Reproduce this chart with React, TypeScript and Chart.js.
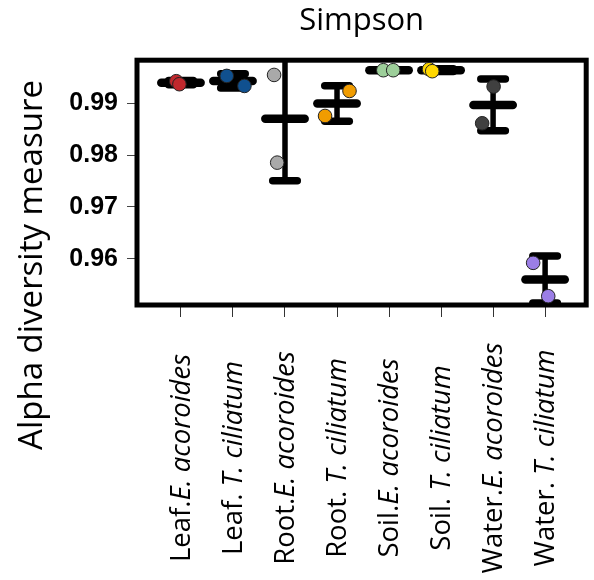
import React, { useEffect, useRef } from 'react';
import { Chart, registerables } from 'chart.js';

Chart.register(...registerables);

// ---- data ----
const groupPrefixes = ['Leaf.', 'Leaf. ', 'Root.', 'Root. ', 'Soil.', 'Soil. ', 'Water.', 'Water. '];
const speciesNames = ['E. acoroides', 'T. ciliatum', 'E. acoroides', 'T. ciliatum', 'E. acoroides', 'T. ciliatum', 'E. acoroides', 'T. ciliatum'];
const replicateA = [0.99425, 0.99527, 0.99546, 0.98755, 0.99637, 0.99656, 0.99322, 0.95923];
const replicateB = [0.99367, 0.99334, 0.97855, 0.99237, 0.99637, 0.99618, 0.98614, 0.9528];
const jitterA = [-0.09, -0.12, -0.21, -0.23, -0.11, -0.23, 0.01, -0.23];
const jitterB = [-0.03, 0.22, -0.15, 0.24, 0.08, -0.17, -0.21, 0.06];
const pointColors = ['#c0282d', '#10508f', '#a9a9a9', '#f09c00', '#9dcf9a', '#ffd700', '#404040', '#9b7ee6'];
const yTickValues = [0.96, 0.97, 0.98, 0.99];
const yMin = 0.9511;
const yMax = 0.9983;
const chartTitle = 'Simpson';
const yAxisTitle = 'Alpha diversity measure';

// ---- style ----
const MEAN_HALF = 0.378;
const CAP_HALF = 0.236;
const LABEL_FONT = 'Open Sans';

function stats(i: number) {
  const vals = [replicateA[i], replicateB[i]];
  const mean = vals.reduce((s, v) => s + v, 0) / vals.length;
  const sd = Math.sqrt(vals.reduce((s, v) => s + (v - mean) * (v - mean), 0) / (vals.length - 1));
  return { mean, sd };
}

const summaryPlugin = {
  id: 'summaryBars',
  beforeDatasetsDraw(chart: any) {
    const { ctx, chartArea: a, scales } = chart;
    const xs = scales.x;
    const ys = scales.y;
    ctx.save();
    ctx.beginPath();
    ctx.rect(a.left, a.top, a.right - a.left, a.bottom - a.top);
    ctx.clip();
    ctx.strokeStyle = '#000';
    groupPrefixes.forEach((_, i) => {
      const { mean, sd } = stats(i);
      const cx = xs.getPixelForValue(i);
      const yTop = ys.getPixelForValue(mean + sd);
      const yBot = ys.getPixelForValue(mean - sd);
      const yMean = ys.getPixelForValue(mean);
      ctx.lineCap = 'butt';
      ctx.lineWidth = 5.5;
      ctx.beginPath();
      ctx.moveTo(cx, yTop);
      ctx.lineTo(cx, yBot);
      ctx.stroke();
      ctx.lineCap = 'round';
      ctx.lineWidth = 7.5;
      [yTop, yBot].forEach((yy) => {
        ctx.beginPath();
        ctx.moveTo(xs.getPixelForValue(i - CAP_HALF), yy);
        ctx.lineTo(xs.getPixelForValue(i + CAP_HALF), yy);
        ctx.stroke();
      });
      ctx.lineWidth = 8.5;
      ctx.beginPath();
      ctx.moveTo(xs.getPixelForValue(i - MEAN_HALF), yMean);
      ctx.lineTo(xs.getPixelForValue(i + MEAN_HALF), yMean);
      ctx.stroke();
    });
    ctx.restore();
    ctx.save();
    ctx.lineWidth = 5;
    ctx.strokeStyle = '#000';
    ctx.strokeRect(a.left, a.top, a.right - a.left, a.bottom - a.top);
    ctx.restore();
  },
  afterDraw(chart: any) {
    const { ctx, scales } = chart;
    const xs = scales.x;
    ctx.save();
    ctx.fillStyle = '#000';
    ctx.textBaseline = 'middle';
    ctx.textAlign = 'left';
    groupPrefixes.forEach((prefix, i) => {
      const cx = xs.getPixelForValue(i);
      const normalFont = `27.5px "${LABEL_FONT}"`;
      const italicFont = `italic 27.5px "${LABEL_FONT}"`;
      ctx.font = normalFont;
      const w1 = ctx.measureText(prefix).width;
      ctx.font = italicFont;
      const w2 = ctx.measureText(speciesNames[i]).width;
      const total = w1 + w2;
      ctx.save();
      ctx.translate(cx + 1, 458);
      ctx.rotate(-Math.PI / 2);
      ctx.font = normalFont;
      ctx.fillText(prefix, -total / 2, 0);
      ctx.font = italicFont;
      ctx.fillText(speciesNames[i], -total / 2 + w1, 0);
      ctx.restore();
    });
    // y axis title
    ctx.save();
    ctx.translate(33, 265);
    ctx.rotate(-Math.PI / 2);
    ctx.textAlign = 'center';
    ctx.font = `33px "${LABEL_FONT}"`;
    ctx.fillText(yAxisTitle, 0, 0);
    ctx.restore();
    ctx.restore();
  },
};

export default function App() {
  const canvasRef = useRef<HTMLCanvasElement | null>(null);

  useEffect(() => {
    document.body.style.margin = '0';
    const canvas = canvasRef.current;
    if (!canvas) return;
    const datasets = groupPrefixes.map((g, i) => ({
      label: g + speciesNames[i],
      data: [
        { x: i + jitterA[i], y: replicateA[i] },
        { x: i + jitterB[i], y: replicateB[i] },
      ],
      backgroundColor: pointColors[i],
      borderColor: '#222',
      borderWidth: 1,
      pointRadius: 6.8,
      clip: false as any,
    }));
    const chart = new Chart(canvas, {
      type: 'scatter',
      data: { datasets },
      plugins: [summaryPlugin],
      options: {
        animation: false,
        responsive: false,
        devicePixelRatio: 1,
        layout: { padding: { left: 0, right: 2, top: 0, bottom: 0 } },
        plugins: {
          legend: { display: false },
          tooltip: { enabled: false },
          title: {
            display: true,
            text: chartTitle,
            fullSize: false,
            color: '#000',
            font: { family: LABEL_FONT, size: 31, weight: 'normal', lineHeight: 1.2 },
            padding: { top: 3, bottom: 20 },
          },
        },
        scales: {
          x: {
            type: 'linear',
            min: -0.845,
            max: 7.79,
            afterBuildTicks: (s: any) => {
              s.ticks = groupPrefixes.map((_, i) => ({ value: i }));
            },
            afterFit: (s: any) => {
              s.height = 275;
            },
            ticks: { callback: () => '', autoSkip: false, maxRotation: 0 },
            grid: { drawOnChartArea: false, drawTicks: true, tickLength: 12, color: '#333', lineWidth: 1 },
            border: { display: false },
          },
          y: {
            type: 'linear',
            min: yMin,
            max: yMax,
            afterBuildTicks: (s: any) => {
              s.ticks = yTickValues.map((v) => ({ value: v }));
            },
            afterFit: (s: any) => {
              s.width = 137;
            },
            ticks: {
              callback: (v: any) => Number(v).toFixed(2),
              color: '#000',
              padding: 9,
              font: { family: 'Liberation Sans', size: 25, weight: 'bold' },
            },
            grid: { drawOnChartArea: false, drawTicks: true, tickLength: 10, color: '#444', lineWidth: 1 },
            border: { display: false },
          },
        },
      },
    });
    return () => chart.destroy();
  }, []);

  return (
    <div style={{ width: 594, height: 580 }}>
      <canvas ref={canvasRef} width={594} height={580} style={{ display: 'block' }} />
    </div>
  );
}
